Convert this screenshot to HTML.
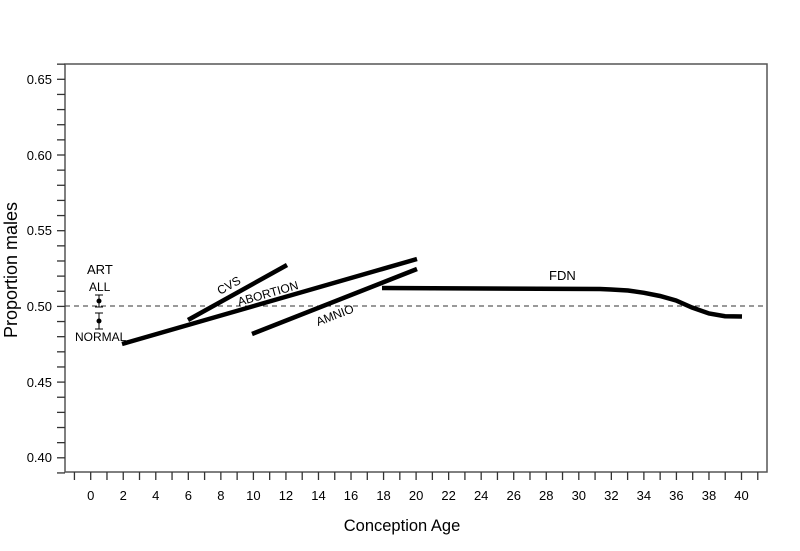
<!DOCTYPE html>
<html><head><style>body{margin:0;background:#fff}svg{display:block}text{font-family:"Liberation Sans",Arial,sans-serif;fill:#000}</style></head>
<body>
<svg width="800" height="551" viewBox="0 0 800 551">
<rect x="65" y="64" width="702" height="408" fill="none" stroke="#555" stroke-width="1.5"/>
<g stroke="#333" stroke-width="1.3" id="yt"></g>
<g stroke="#333" stroke-width="1.3" id="xt"></g>
<g font-size="13" text-anchor="end">
<text x="52" y="84">0.65</text><text x="52" y="160">0.60</text><text x="52" y="235">0.55</text><text x="52" y="311">0.50</text><text x="52" y="387">0.45</text><text x="52" y="462">0.40</text>
</g>
<g font-size="13" text-anchor="middle" id="xl"></g>
<line x1="65" y1="306" x2="767" y2="306" stroke="#333" stroke-dasharray="5,4" stroke-width="1"/>
<g stroke="#000" stroke-width="4.5" fill="none" stroke-linecap="butt">
<line x1="188" y1="320" x2="287" y2="265"/>
<line x1="122" y1="344" x2="417" y2="259"/>
<line x1="252" y1="334" x2="417" y2="269"/>
<path d="M382 288 L600 289 L611 289.5 L628 290.5 L644 292.8 L660 296 L676 300.5 L692 307.5 L709 313.5 L725 316.2 L742 316.5"/>
</g>
<g stroke="#000" stroke-width="1">
<line x1="99" y1="295" x2="99" y2="307"/><line x1="95" y1="295" x2="103" y2="295"/><line x1="95" y1="307" x2="103" y2="307"/>
<line x1="99" y1="313" x2="99" y2="329"/><line x1="95" y1="313" x2="103" y2="313"/><line x1="95" y1="329" x2="103" y2="329"/>
</g>
<circle cx="99" cy="301" r="2.5"/><circle cx="99" cy="321" r="2.5"/>
<g font-size="12">
<text x="87" y="274" font-size="13">ART</text>
<text x="89" y="291">ALL</text>
<text x="75" y="341">NORMAL</text>
<text x="0" y="0" transform="translate(220,295) rotate(-29)">CVS</text>
<text x="0" y="0" transform="translate(239,306) rotate(-16)">ABORTION</text>
<text x="0" y="0" transform="translate(318,326) rotate(-21)">AMNIO</text>
<text x="549" y="280" font-size="13">FDN</text>
</g>
<text x="402" y="531" font-size="16.5" text-anchor="middle">Conception Age</text>
<text transform="translate(17,270) rotate(-90)" font-size="18" text-anchor="middle">Proportion males</text>
<script>
var ns="http://www.w3.org/2000/svg";
var yt=document.getElementById('yt');
for(var i=39;i<=66;i++){var y=306.4-(i/100-0.5)*1514;if(y<63||y>473)continue;var l=document.createElementNS(ns,'line');l.setAttribute('x1',57);l.setAttribute('x2',65);l.setAttribute('y1',y);l.setAttribute('y2',y);yt.appendChild(l);}
var xt=document.getElementById('xt'),xl=document.getElementById('xl');
for(var v=-1;v<=41;v++){var x=90.7+16.27*v;var l=document.createElementNS(ns,'line');l.setAttribute('x1',x);l.setAttribute('x2',x);l.setAttribute('y1',472);l.setAttribute('y2',480);xt.appendChild(l);
if(v>=0&&v<=40&&v%2==0){var t=document.createElementNS(ns,'text');t.setAttribute('x',x);t.setAttribute('y',500);t.textContent=v;xl.appendChild(t);}}
</script>
</svg>
</body></html>
